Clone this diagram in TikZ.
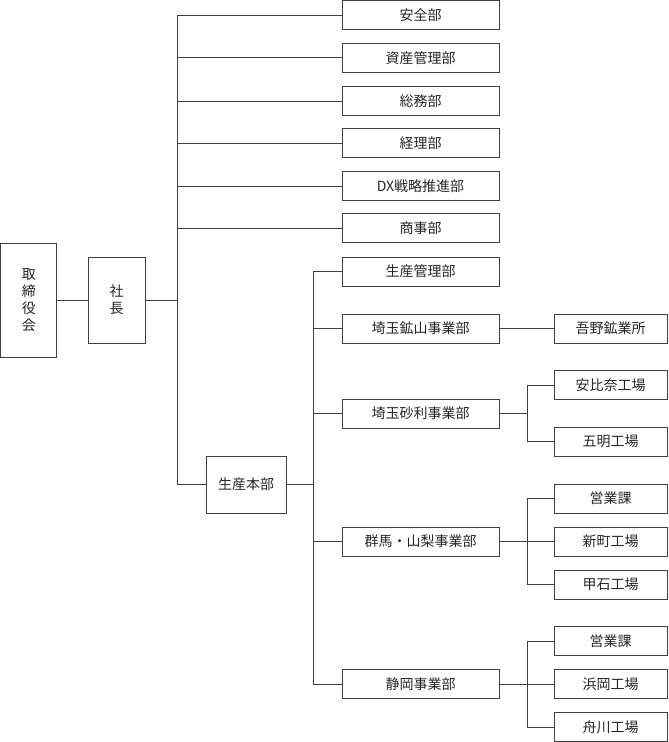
\documentclass[tikz,border=0pt]{standalone}
\usepackage{fontspec}
\setmainfont{Noto Sans CJK JP}
\begin{document}
\begin{tikzpicture}[x=0.75pt,y=-0.75pt,
  bx/.style={draw=black!75,line width=0.75pt,fill=white,inner sep=0pt,font=\fontsize{10.5}{12.75}\selectfont,text=black!85,align=center},
  dept/.style={bx,minimum width=117.75pt,minimum height=21.75pt},
  sub/.style={bx,minimum width=84.75pt,minimum height=21.75pt},
  ln/.style={draw=black!75,line width=0.75pt}]
\useasboundingbox (0,0) rectangle (668,742);
% level 0/1
\node[bx,minimum width=42pt,minimum height=85.5pt] (tori) at (28.75,300) {取\\締\\役\\会};
\node[bx,minimum width=42.75pt,minimum height=64.5pt] (sha) at (116.5,300) {社\\長};
\coordinate (t1top) at (177,15);
\coordinate (t1) at (177,300);
% top departments
\node[dept] (anzen) at (420.5,15.5) {安全部};
\node[dept] (shisan) at (420.5,58) {資産管理部};
\node[dept] (somu) at (420.5,101) {総務部};
\node[dept] (keiri) at (420.5,143) {経理部};
\node[dept] (dx) at (420.5,186) {DX戦略推進部};
\node[dept] (shoji) at (420.5,228) {商事部};
\node[bx,minimum width=60pt,minimum height=42.75pt] (honbu) at (246,484.5) {生産本部};
\draw[ln] (tori.east) -- (sha.west);
\draw[ln] (sha.east) -- (t1);
\draw[ln] (t1top) -- (t1 |- honbu) -- (honbu.west);
\foreach \n in {anzen,shisan,somu,keiri,dx,shoji} \draw[ln] (t1 |- \n) -- (\n.west);
% production
\coordinate (t2) at (313,484.5);
\node[dept] (seikan) at (420.5,271.5) {生産管理部};
\node[dept] (kozan) at (420.5,328.5) {埼玉鉱山事業部};
\node[dept] (jari) at (420.5,413.5) {埼玉砂利事業部};
\node[dept] (gunma) at (420.5,541.5) {群馬・山梨事業部};
\node[dept] (shizu) at (420.5,684) {静岡事業部};
\draw[ln] (honbu.east) -- (t2);
\draw[ln] (t2 |- seikan) -- (t2 |- shizu) -- (shizu.west);
\foreach \n in {seikan,kozan,jari,gunma} \draw[ln] (t2 |- \n) -- (\n.west);
% subs
\node[sub] (agano) at (610.5,328.5) {吾野鉱業所};
\node[sub] (ahina) at (610.5,385) {安比奈工場};
\node[sub] (gomyo) at (610.5,441.5) {五明工場};
\node[sub] (eig1) at (610.5,498.5) {営業課};
\node[sub] (shinm) at (610.5,541.5) {新町工場};
\node[sub] (koish) at (610.5,584.5) {甲石工場};
\node[sub] (eig2) at (610.5,641) {営業課};
\node[sub] (hamao) at (610.5,684) {浜岡工場};
\node[sub] (funak) at (610.5,727) {舟川工場};
\coordinate (t3) at (527,0);
\draw[ln] (kozan.east) -- (agano.west);
\draw[ln] (jari.east) -- (t3 |- jari);
\draw[ln] (ahina.west) -- (t3 |- ahina) -- (t3 |- gomyo) -- (gomyo.west);
\draw[ln] (gunma.east) -- (shinm.west);
\draw[ln] (eig1.west) -- (t3 |- eig1) -- (t3 |- koish) -- (koish.west);
\draw[ln] (shizu.east) -- (hamao.west);
\draw[ln] (eig2.west) -- (t3 |- eig2) -- (t3 |- funak) -- (funak.west);
\end{tikzpicture}
\end{document}
